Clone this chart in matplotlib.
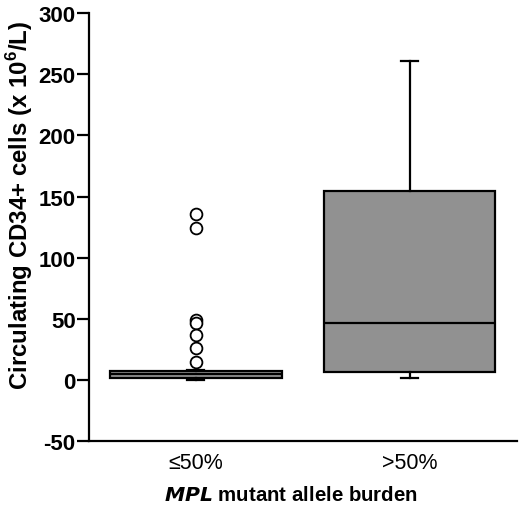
import matplotlib
matplotlib.use("Agg")
import matplotlib.pyplot as plt

plt.rcParams['font.family'] = ['Liberation Sans', 'DejaVu Sans']
plt.rcParams['mathtext.fontset'] = 'custom'
plt.rcParams['mathtext.rm'] = 'Liberation Sans:bold'
plt.rcParams['mathtext.bf'] = 'Liberation Sans:bold'

categories = ['≤50%', '>50%']
whislo = [0, 1.5]
q1 = [1.5, 6.5]
med = [4.5, 46.5]
q3 = [7.5, 154.5]
whishi = [8, 261]
fliers_low = [136, 124, 49, 46.5, 37, 26, 15]
fliers_high = []
yticks = [-50, 0, 50, 100, 150, 200, 250, 300]

stats = []
for i, name in enumerate(categories):
    stats.append(dict(label=name, whislo=whislo[i], q1=q1[i], med=med[i],
                      q3=q3[i], whishi=whishi[i],
                      fliers=[fliers_low, fliers_high][i]))

fig = plt.figure(figsize=(5.2, 5.06), dpi=100)
ax = fig.add_axes([0.171, 0.1265, 0.823, 0.8455])

lw = 1.6
ax.bxp(stats, positions=[1, 2], widths=0.8, capwidths=0.08, patch_artist=True,
       boxprops=dict(facecolor='#919191', edgecolor='black', linewidth=lw),
       medianprops=dict(color='black', linewidth=lw),
       whiskerprops=dict(color='black', linewidth=lw),
       capprops=dict(color='black', linewidth=lw),
       flierprops=dict(marker='o', markersize=8.5, markerfacecolor='white',
                       markeredgecolor='black', markeredgewidth=1.3))

ax.set_xlim(0.5, 2.5)
ax.set_ylim(-50, 300)
ax.set_yticks(yticks)
ax.set_yticklabels([str(t) for t in yticks], fontweight='bold', fontsize=16)
ax.set_xticks([1, 2])
ax.set_xticklabels(categories, fontsize=15.5)
ax.tick_params(axis='x', length=0, pad=8)
ax.tick_params(axis='y', length=8.5, width=lw, pad=1)

for s in ['top', 'right']:
    ax.spines[s].set_visible(False)
for s in ['left', 'bottom']:
    ax.spines[s].set_linewidth(lw)

ax.set_ylabel(r'Circulating CD34+ cells (x 10$^{6}$/L)', fontsize=17.3,
              fontweight='bold')
ax.yaxis.set_label_coords(-0.127, 0.554)
ax.set_xlabel(r'$\mathbfit{MPL}$ mutant allele burden', fontsize=14.7,
              fontweight='bold')
ax.xaxis.set_label_coords(0.472, -0.103)

fig.savefig('out.png', dpi=100)
